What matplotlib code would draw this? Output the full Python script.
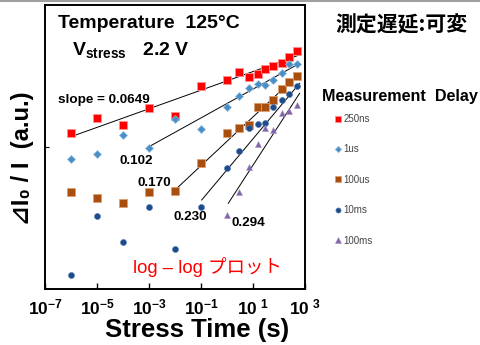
import matplotlib
matplotlib.use("Agg")
import matplotlib.pyplot as plt
from matplotlib.lines import Line2D

plt.rcParams['font.family'] = ['Liberation Sans', 'DejaVu Sans']
plt.rcParams['mathtext.fontset'] = 'custom'
plt.rcParams['mathtext.rm'] = 'Liberation Sans:bold'
plt.rcParams['mathtext.it'] = 'Liberation Sans:bold'
plt.rcParams['mathtext.bf'] = 'Liberation Sans:bold'

# ---------------- data (arbitrary units) ----------------
t_full = [1e-6, 1e-5, 1e-4, 1e-3, 1e-2, 1e-1, 1, 3, 7, 15, 30, 60, 125, 250, 500]
t_late = [1, 3, 7, 15, 30, 60, 125, 250, 500]

y_250ns = [155.7, 170.7, 164.0, 181.3, 173.3, 203.3, 209.5, 216.7, 212.5, 214.8, 219.8, 223.3, 225.7, 232.3, 238.3]
y_1us = [129.7, 135.0, 154.0, 140.7, 170.0, 159.7, 182.0, 193.3, 200.7, 204.8, 204.3, 209.3, 216.3, 224.7, 224.8]
y_100us = [97.3, 90.7, 85.7, 96.7, 98.3, 125.7, 155.7, 160.7, 164.0, 181.7, 181.7, 188.7, 199.7, 207.3, 213.0]
y_10ms = [14.0, 73.0, 47.3, 81.7, 39.7, 81.7, 120.7, 138.3, 161.2, 165.0, 165.7, 182.3, 188.7, 195.0, 203.0]
y_100ms = [74.0, 97.3, 122.3, 144.7, 160.7, 159.0, 175.7, 178.2, 184.5]

# fit lines: start time, start value, end time, end value
fit_t0 = [1e-6, 1e-3, 1e-2, 0.106, 1.12]
fit_y0 = [152.3, 142.3, 99.0, 89.0, 85.7]
fit_t1 = [600, 620, 620, 620, 620]
fit_y1 = [234.0, 225.7, 215.7, 205.7, 195.7]
slopes = ["slope = 0.0649", "0.102", "0.170", "0.230", "0.294"]

series_names = ["250ns", "1us", "100us", "10ms", "100ms"]
xtick_vals = [1e-7, 1e-5, 1e-3, 1e-1, 1e1, 1e3]
xtick_labels = ["10$^{-7}$", "10$^{-5}$", "10$^{-3}$", "10$^{-1}$", "10$^{\\ 1}$", "10$^{\\ 3}$"]

# ---------------- figure ----------------
W, H = 481, 345
fig = plt.figure(figsize=(W / 100, H / 100), dpi=100)
ax = fig.add_axes([45 / W, 1 - 289 / H, 260 / W, 284 / H])
ax.set_xscale('log')
ax.set_xlim(1e-7, 1e3)
ax.set_ylim(0, 284)

# fit lines
for a, b, c, d in zip(fit_t0, fit_y0, fit_t1, fit_y1):
    ax.plot([a, c], [b, d], color='black', lw=0.7, zorder=2)

h1, = ax.plot(t_full, y_250ns, 's', ms=5.4, color='#ff0000', mec='#ff9090', mew=0.6, zorder=3)
h2, = ax.plot(t_full, y_1us, 'D', ms=3.8, color='#4a8fc4', mec='#8fbde0', mew=0.5, zorder=3)
h3, = ax.plot(t_full, y_100us, 's', ms=5.6, color='#a84f10', mec='#e0a070', mew=0.6, zorder=3)
h4, = ax.plot(t_full, y_10ms, 'o', ms=4.4, color='#1f4c88', mec='#5a82b8', mew=0.4, zorder=3)
h5, = ax.plot(t_late, y_100ms, '^', ms=5.0, color='#8064a8', mec='#a890c8', mew=0.4, zorder=3)

for s in ax.spines.values():
    s.set_linewidth(1.4)
ax.set_xticks(xtick_vals)
ax.set_xticklabels(xtick_labels, fontsize=12.5, fontweight='bold')
ax.xaxis.set_minor_locator(matplotlib.ticker.NullLocator())
ax.tick_params(axis='x', direction='in', length=4, width=1, pad=6)
ax.set_yticks([142])
ax.set_yticklabels([])
ax.tick_params(axis='y', direction='in', length=3, width=0.8)

ax.set_xlabel("Stress Time (s)", fontsize=18.5, fontweight='bold', va='center')
ax.xaxis.set_label_coords((197 - 45) / 260, -(330 - 289) / 284)
ax.set_ylabel("⊿I₀ / I  (a.u.)", fontsize=17, fontweight='bold', va='center')
ax.yaxis.set_label_coords(-(45 - 23) / 260, (289 - 158) / 284)

# texts in pixel coords
def ftxt(x, y, s, **kw):
    fig.text(x / W, 1 - y / H, s, **kw)

ftxt(58, 23, "Temperature  125°C", fontsize=14, fontweight='bold', va='center', ha='left')
ftxt(72, 50, "V$_{\\mathrm{stress}}$   2.2 V", fontsize=14, fontweight='bold', va='center', ha='left')

slope_pos = [(58, 100), (120, 161), (138, 183), (174, 217), (232, 223)]
for (px, py), s in zip(slope_pos, slopes):
    ftxt(px, py, s, fontsize=9.7, fontweight='bold', va='center', ha='left')

ftxt(133, 267, "log – log プロット", fontsize=13.3, color='#ff0000', va='center', ha='left',
     family=['Liberation Sans', 'Noto Sans CJK JP'])

ftxt(335, 25, "測定遅延:可変", fontsize=15, fontweight='bold', va='center', ha='left',
     family=['Noto Sans CJK JP', 'DejaVu Sans'])
ftxt(322, 97, "Measurement  Delay", fontsize=11.6, fontweight='bold', va='center', ha='left')

leg = fig.legend([h1, h2, h3, h4, h5], series_names, loc='upper left',
                 bbox_to_anchor=(335 / W, 1 - 114 / H), frameon=False,
                 fontsize=7, labelcolor='#444444', handlelength=0.6, handletextpad=0.3,
                 labelspacing=2.1, markerscale=0.85, borderaxespad=0, borderpad=0)

fig.add_artist(Line2D([0, 1], [1 - 0.8 / H, 1 - 0.8 / H], transform=fig.transFigure,
                      color='#a0a0a0', lw=1.5))

fig.savefig("out.png", dpi=100)
